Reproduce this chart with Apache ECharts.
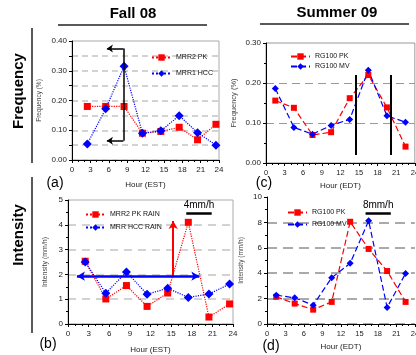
<!DOCTYPE html>
<html>
<head>
<meta charset="utf-8">
<script src="https://cdn.jsdelivr.net/npm/echarts@6/dist/echarts.min.js"></script>
<style>
  html, body { margin: 0; padding: 0; background: #fff; overflow: hidden; }
  #chart { width: 422px; height: 355px; }
</style>
</head>
<body>
<div id="chart"></div>
<script>
// Fall 08 (EST) - MRR
const hoursFall = [2.5, 5.5, 8.5, 11.5, 14.5, 17.5, 20.5, 23.5];
const freqMrrPk = [0.18, 0.18, 0.18, 0.09, 0.096, 0.11, 0.068, 0.12];
const freqMrrHcc = [0.054, 0.172, 0.315, 0.09, 0.098, 0.149, 0.092, 0.05];
const intMrrPk = [2.53, 1.01, 1.55, 0.71, 1.25, 4.1, 0.28, 0.81];
const intMrrHcc = [2.5, 1.24, 2.1, 1.2, 1.44, 1.07, 1.21, 1.61];

// Summer 09 (EDT) - RG100
const hoursSummer = [1.5, 4.5, 7.5, 10.5, 13.5, 16.5, 19.5, 22.5];
const freqRgPk = [0.156, 0.138, 0.07, 0.077, 0.162, 0.22, 0.139, 0.041];
const freqRgMv = [0.186, 0.089, 0.072, 0.094, 0.109, 0.232, 0.118, 0.102];
const intRgPk = [2.14, 1.61, 1.13, 1.74, 8.05, 5.91, 4.17, 1.74];
const intRgMv = [2.27, 2.06, 1.48, 3.64, 4.78, 8.13, 1.30, 3.98];

// annotation anchors (hour, value)
const bracketA = { x0: 5.7, x1: 8.4, yTop: 0.375, yBot: 0.065 };
const arrowsB = { x0: 1.3, x1: 19.1, y: 1.93, xUp: 15.3, yUp: 4.15 };
const linesC = [14.4, 20.1];
const linesCRange = [0.02, 0.22];
const scaleB = { x0: 17.2, x1: 20.9, y: 4.46, text: '4mm/h' };
const scaleD = { x0: 16.0, x1: 20.1, y: 8.73, text: '8mm/h' };

const FONT = '"Liberation Sans", Arial, sans-serif';
const pairs = (xs, ys) => xs.map((x, i) => [x, ys[i]]);

const chart = echarts.init(document.getElementById('chart'), null, { renderer: 'canvas' });

function xAxis(gridIndex, name, nameGap, fs) {
  return {
    type: 'value', gridIndex, min: 0, max: 24, interval: 3,
    name, nameLocation: 'middle', nameGap,
    nameTextStyle: { fontSize: 8, color: '#222', fontFamily: FONT },
    axisLine: { onZero: false, lineStyle: { color: '#000', width: 1 } },
    axisTick: { length: 3, lineStyle: { color: '#000' } },
    minorTick: { show: true, splitNumber: 3, length: 2, lineStyle: { color: '#000' } },
    axisLabel: { fontSize: fs, color: '#222', margin: 6, fontFamily: FONT },
    splitLine: { show: false },
  };
}

function yAxis(gridIndex, max, interval, name, nameGap, nfs, fmt, split, minor) {
  return {
    type: 'value', gridIndex, min: 0, max, interval,
    name, nameLocation: 'middle', nameGap,
    nameTextStyle: { fontSize: nfs, color: '#444', fontFamily: FONT },
    axisLine: { show: true, onZero: false, lineStyle: { color: '#000', width: 1 } },
    axisTick: { show: true, length: 3, lineStyle: { color: '#000' } },
    minorTick: { show: minor > 0, splitNumber: minor || 1, length: 2, lineStyle: { color: '#000' } },
    axisLabel: { fontSize: 8, color: '#222', margin: 5, fontFamily: FONT, formatter: fmt },
    splitLine: { show: true, showMaxLine: false, lineStyle: split },
  };
}

function legend(top, left, gap, names) {
  return {
    top, left, orient: 'vertical', itemWidth: 19, itemHeight: 8, itemGap: gap,
    data: names,
    textStyle: { fontSize: 7, color: '#111', fontFamily: FONT },
    selectedMode: false,
  };
}

const redSquare = (size) => ({ symbol: 'rect', symbolSize: size, itemStyle: { color: '#ff0000' } });
const blueDiamond = (size) => ({ symbol: 'diamond', symbolSize: size, itemStyle: { color: '#0000ff' } });

const option = {
  animation: false,
  grid: [
    { left: 72, top: 41, width: 147, height: 119, show: true, borderColor: '#aaa', borderWidth: 1 },
    { left: 68, top: 200, width: 165, height: 125, show: true, borderColor: '#aaa', borderWidth: 1 },
    { left: 266, top: 43, width: 153, height: 120, show: true, borderColor: '#999', borderWidth: 1 },
    { left: 267, top: 197, width: 152, height: 127 },
  ],
  xAxis: [
    xAxis(0, 'Hour (EST)', 21, 8),
    xAxis(1, 'Hour (EST)', 22, 8),
    xAxis(2, 'Hour (EDT)', 19, 7.5),
    xAxis(3, 'Hour (EDT)', 19, 7.5),
  ],
  yAxis: [
    yAxis(0, 0.4, 0.05, 'Frequency (%)', 29, 6.5,
      (v) => (Math.round(v * 100) % 10 === 0 ? v.toFixed(2) : ''),
      { color: '#c4c4c4', type: [6, 4], width: 1.5 }, 0),
    yAxis(1, 5, 1, 'Intensity (mm/h)', 19, 7,
      (v) => String(v),
      { color: '#c4c4c4', type: [8, 6], width: 1.5 }, 2),
    yAxis(2, 0.3, 0.1, 'Frequency (%)', 28, 7.5,
      (v) => v.toFixed(2),
      { color: '#999', type: [8, 5], width: 1 }, 2),
    yAxis(3, 10, 2, 'Intensity (mm/h)', 22, 6.5,
      (v) => String(v),
      { color: '#aaa', type: [10, 6], width: 2 }, 2),
  ],
  legend: [
    legend(49, 146, 9, ['MRR2 PK', 'MRR1 HCC']),
    legend(206, 80, 6, ['MRR2 PK RAIN', 'MRR HCC RAIN']),
    legend(48, 285, 3, ['RG100 PK', 'RG100 MV']),
    legend(204, 282, 5, ['RG100 PK ', 'RG100 MV ']),
  ],
  series: [
    // (a)
    {
      name: 'MRR2 PK', type: 'line', xAxisIndex: 0, yAxisIndex: 0,
      data: pairs(hoursFall, freqMrrPk), ...redSquare(7),
      lineStyle: { color: '#ff0000', width: 1.2, type: 'dotted' },
      markLine: {
        silent: true, animation: false, symbolSize: [6, 6],
        lineStyle: { color: '#000', width: 1.5, type: 'solid' },
        label: { show: false },
        data: [
          [{ coord: [bracketA.x1, bracketA.yTop], symbol: 'none' }, { coord: [bracketA.x0, bracketA.yTop], symbol: 'arrow' }],
          [{ coord: [bracketA.x1, bracketA.yTop], symbol: 'none' }, { coord: [bracketA.x1, bracketA.yBot], symbol: 'none' }],
          [{ coord: [bracketA.x1, bracketA.yBot], symbol: 'none' }, { coord: [bracketA.x0, bracketA.yBot], symbol: 'arrow' }],
        ],
      },
    },
    {
      name: 'MRR1 HCC', type: 'line', xAxisIndex: 0, yAxisIndex: 0,
      data: pairs(hoursFall, freqMrrHcc), ...blueDiamond(9),
      lineStyle: { color: '#0000ff', width: 1.2, type: 'dotted' },
    },
    // (b)
    {
      name: 'MRR2 PK RAIN', type: 'line', xAxisIndex: 1, yAxisIndex: 1,
      data: pairs(hoursFall, intMrrPk), ...redSquare(7),
      lineStyle: { color: '#ff0000', width: 1.2, type: 'dotted' },
      markLine: {
        silent: true, animation: false, symbolSize: [7, 8],
        label: { show: false },
        data: [
          [
            { coord: [arrowsB.xUp, arrowsB.y], symbol: 'none', lineStyle: { color: '#ff0000', width: 2, type: 'solid' } },
            { coord: [arrowsB.xUp, arrowsB.yUp], symbol: 'arrow' },
          ],
          [
            { coord: [scaleB.x0, scaleB.y], symbol: 'none', lineStyle: { color: '#000', width: 2.5, type: 'solid' },
              label: { show: true, position: 'insideMiddleTop', formatter: scaleB.text, fontSize: 10, color: '#000', fontFamily: FONT, distance: 3 } },
            { coord: [scaleB.x1, scaleB.y], symbol: 'none' },
          ],
        ],
      },
    },
    {
      name: 'MRR HCC RAIN', type: 'line', xAxisIndex: 1, yAxisIndex: 1,
      data: pairs(hoursFall, intMrrHcc), ...blueDiamond(9),
      lineStyle: { color: '#0000ff', width: 1.2, type: 'dotted' },
      markLine: {
        silent: true, animation: false, symbolSize: [7, 8],
        label: { show: false },
        lineStyle: { color: '#0000ff', width: 2.5, type: 'solid' },
        data: [
          [{ coord: [arrowsB.x0, arrowsB.y], symbol: 'arrow' }, { coord: [arrowsB.x1, arrowsB.y], symbol: 'arrow' }],
        ],
      },
    },
    // (c)
    {
      name: 'RG100 PK', type: 'line', xAxisIndex: 2, yAxisIndex: 2,
      data: pairs(hoursSummer, freqRgPk), ...redSquare(6),
      lineStyle: { color: '#ff0000', width: 1.2, type: [6, 3] },
      markLine: {
        silent: true, animation: false, symbol: 'none',
        label: { show: false },
        lineStyle: { color: '#000', width: 2, type: 'solid' },
        data: linesC.map((h) => [{ coord: [h, linesCRange[0]] }, { coord: [h, linesCRange[1]] }]),
      },
    },
    {
      name: 'RG100 MV', type: 'line', xAxisIndex: 2, yAxisIndex: 2,
      data: pairs(hoursSummer, freqRgMv), ...blueDiamond(7),
      lineStyle: { color: '#0000ff', width: 1.2, type: [6, 3] },
    },
    // (d)
    {
      name: 'RG100 PK ', type: 'line', xAxisIndex: 3, yAxisIndex: 3,
      data: pairs(hoursSummer, intRgPk), ...redSquare(6),
      lineStyle: { color: '#ff0000', width: 1.2, type: [6, 3] },
      markLine: {
        silent: true, animation: false, symbol: 'none',
        lineStyle: { color: '#000', width: 2.5, type: 'solid' },
        label: { show: true, position: 'insideMiddleTop', formatter: scaleD.text, fontSize: 10, color: '#000', fontFamily: FONT, distance: 3 },
        data: [[{ coord: [scaleD.x0, scaleD.y] }, { coord: [scaleD.x1, scaleD.y] }]],
      },
    },
    {
      name: 'RG100 MV ', type: 'line', xAxisIndex: 3, yAxisIndex: 3,
      data: pairs(hoursSummer, intRgMv), ...blueDiamond(7),
      lineStyle: { color: '#0000ff', width: 1.2, type: [6, 3] },
    },
  ],
  graphic: [
    { type: 'text', x: 133, y: 14, style: { text: 'Fall 08', font: 'bold 15px ' + FONT, fill: '#000', textAlign: 'center', textVerticalAlign: 'middle' } },
    { type: 'line', shape: { x1: 58, y1: 25, x2: 207, y2: 25 }, style: { stroke: '#222', lineWidth: 1.5 } },
    { type: 'text', x: 337, y: 13, style: { text: 'Summer 09', font: 'bold 15px ' + FONT, fill: '#000', textAlign: 'center', textVerticalAlign: 'middle' } },
    { type: 'line', shape: { x1: 260, y1: 24, x2: 409, y2: 24 }, style: { stroke: '#222', lineWidth: 1.5 } },
    { type: 'text', x: 19, y: 91, rotation: Math.PI / 2, style: { text: 'Frequency', font: 'bold 15px ' + FONT, fill: '#000', textAlign: 'center', textVerticalAlign: 'middle' } },
    { type: 'line', shape: { x1: 32, y1: 28, x2: 32, y2: 163 }, style: { stroke: '#222', lineWidth: 1.5 } },
    { type: 'text', x: 19, y: 235, rotation: Math.PI / 2, style: { text: 'Intensity', font: 'bold 15px ' + FONT, fill: '#000', textAlign: 'center', textVerticalAlign: 'middle' } },
    { type: 'line', shape: { x1: 32, y1: 177, x2: 32, y2: 333 }, style: { stroke: '#222', lineWidth: 1.5 } },
    { type: 'text', x: 55, y: 183, style: { text: '(a)', font: '14px ' + FONT, fill: '#000', textAlign: 'center', textVerticalAlign: 'middle' } },
    { type: 'text', x: 48, y: 344, style: { text: '(b)', font: '14px ' + FONT, fill: '#000', textAlign: 'center', textVerticalAlign: 'middle' } },
    { type: 'text', x: 264, y: 183, style: { text: '(c)', font: '14px ' + FONT, fill: '#000', textAlign: 'center', textVerticalAlign: 'middle' } },
    { type: 'text', x: 271, y: 346, style: { text: '(d)', font: '14px ' + FONT, fill: '#000', textAlign: 'center', textVerticalAlign: 'middle' } },
  ],
};

chart.setOption(option);
</script>
</body>
</html>
